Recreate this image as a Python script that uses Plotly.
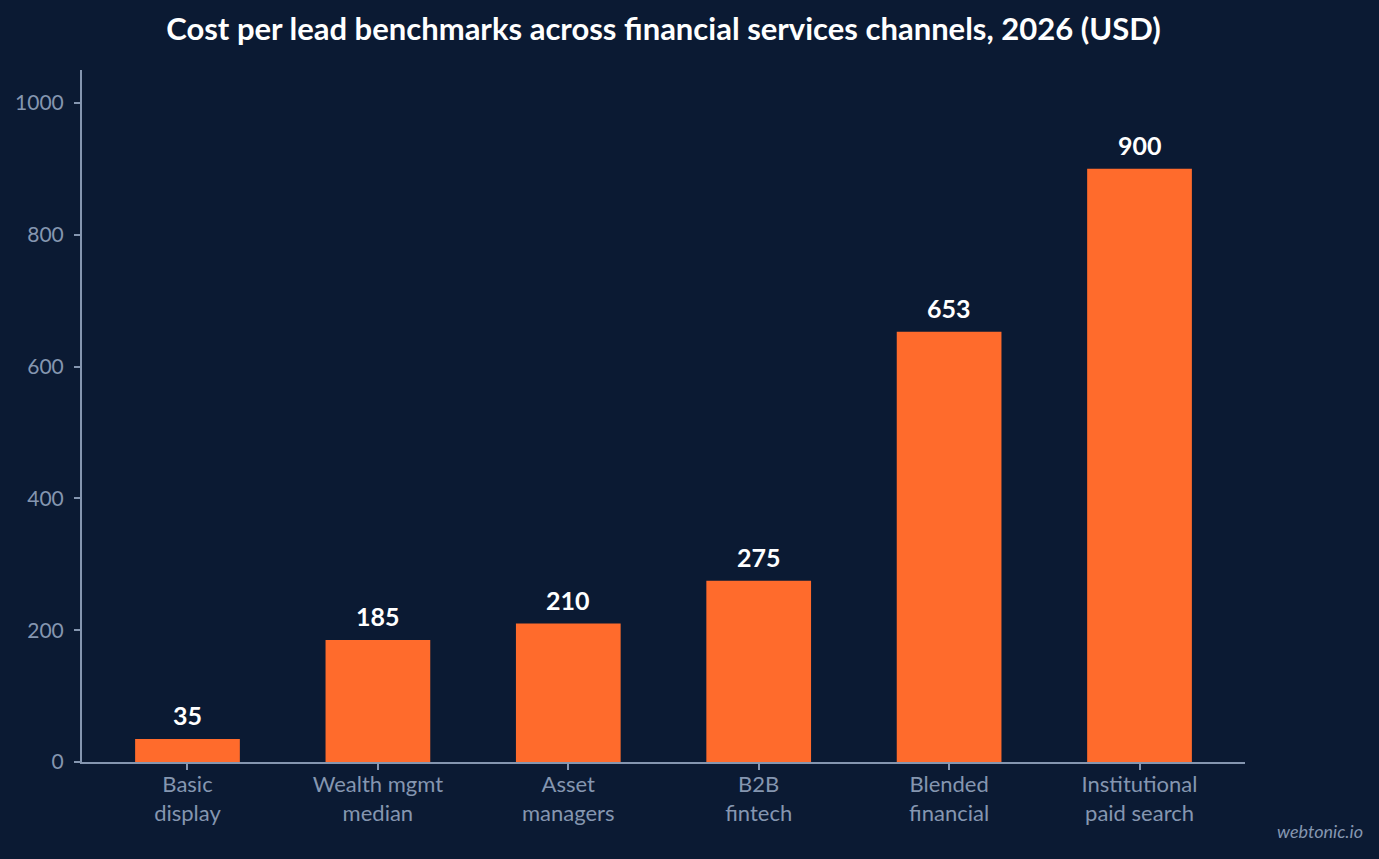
import plotly.graph_objects as go

categories = ["Basic<br>display", "Wealth mgmt<br>median", "Asset<br>managers",
              "B2B<br>fintech", "Blended<br>financial", "Institutional<br>paid search"]
cost_per_lead = [35, 185, 210, 275, 653, 900]

bg = "#0b1a33"
muted = "#8596b0"

fig = go.Figure()
fig.add_trace(go.Bar(
    x=categories, y=cost_per_lead,
    marker=dict(color="#ff6b2c", line=dict(width=0)),
    width=0.55,
))

# value labels above bars
for cat, val in zip(categories, cost_per_lead):
    fig.add_annotation(
        x=cat, y=val, text=f"<b>{val}</b>", showarrow=False,
        yanchor="bottom", yshift=7,
        font=dict(family="Lato", size=25, color="#ffffff"),
    )

fig.update_layout(
    width=1379, height=859,
    paper_bgcolor=bg, plot_bgcolor=bg,
    margin=dict(l=82, r=134, t=70, b=97),
    font=dict(family="Lato", color=muted),
    title=dict(text="<b>Cost per lead benchmarks across financial services channels, 2026 (USD)</b>",
               x=0.5, xref="paper", y=0.966, yanchor="middle",
               font=dict(family="Lato", size=31, color="#ffffff")),
    showlegend=False,
)
fig.update_xaxes(
    range=[-0.554, 5.554],
    showline=True, linecolor=muted, linewidth=2,
    ticks="outside", ticklen=6, tickcolor=muted, tickwidth=2,
    ticklabelstandoff=-4,
    tickfont=dict(family="Lato", size=22, color=muted),
    showgrid=False,
)
fig.update_yaxes(
    range=[0, 1050],
    tickvals=[0, 200, 400, 600, 800, 1000],
    showline=True, linecolor=muted, linewidth=2,
    ticks="outside", ticklen=6, tickcolor=muted, tickwidth=2,
    ticklabelstandoff=6,
    tickfont=dict(family="Lato", size=21, color=muted),
    showgrid=False, zeroline=False,
)
fig.add_annotation(
    text="<i>webtonic.io</i>", xref="paper", yref="paper",
    x=1.0, y=-0.1, xanchor="left", yanchor="middle", xshift=30,
    showarrow=False,
    font=dict(family="Lato", size=18, color=muted),
)

fig.write_html("out.html", config={"displayModeBar": False},
               post_script="document.body.style.margin='0';document.body.style.background='#0b1a33';")
